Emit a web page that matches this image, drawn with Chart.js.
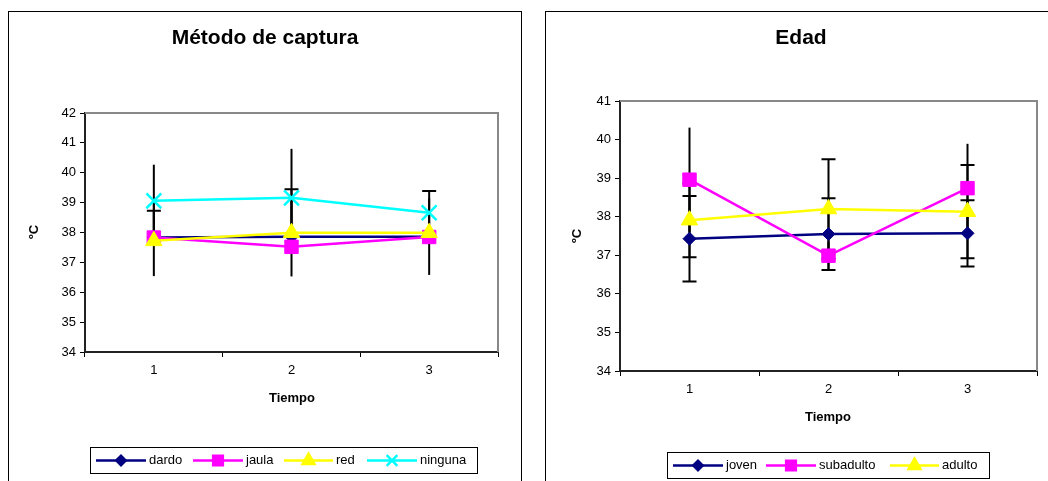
<!DOCTYPE html>
<html>
<head>
<meta charset="utf-8">
<script src="https://cdn.jsdelivr.net/npm/chart.js@4"></script>
<style>
body { margin: 0; background: #fff; width: 1048px; height: 481px; overflow: hidden; position: relative; }
canvas { position: absolute; top: 0; }
</style>
</head>
<body>
<canvas id="metodoChart" width="524" height="481" style="left:0"></canvas>
<canvas id="edadChart" width="524" height="481" style="left:524px"></canvas>
<script>
// categorias (Tiempo)
const tiempos = ['1', '2', '3'];

// Metodo de captura
const metodoNombres = ['dardo', 'jaula', 'red', 'ninguna'];
const dardo = [37.83, 37.86, 37.86];
const jaula = [37.83, 37.52, 37.85];
const red = [37.72, 37.99, 37.99];
const ninguna = [39.06, 39.16, 38.66];
const dardoErr = [1.29, 1.33, 1.28];
const jaulaErrMas = [0.90, 1.93, 1.54];
const ningunaErr = [1.21, 1.64, 0];
const metodoEje = [34, 42];

// Edad
const edadNombres = ['joven', 'subadulto', 'adulto'];
const joven = [37.43, 37.55, 37.57];
const subadulto = [38.96, 36.99, 38.74];
const adulto = [37.91, 38.20, 38.13];
const jovenErr = [1.11, 0.93, 0.86];
const subadultoErr = [1.35, 0.35, 1.15];
const adultoErr = [0.96, 1.29, 1.21];
const edadEje = [34, 41];

const FONT = 'Arial, "Liberation Sans", sans-serif';
const zeros = [0, 0, 0];

// marco, titulos, leyenda y barras de error
const marcoPlugin = {
    id: 'marco',
    beforeDatasetsDraw(chart) {
        const ctx = chart.ctx;
        const y = chart.scales.y;
        ctx.save();
        ctx.strokeStyle = '#000';
        ctx.lineWidth = 2;
        chart.data.datasets.forEach((ds, i) => {
            if (!ds.errMas) return;
            const meta = chart.getDatasetMeta(i);
            ds.data.forEach((v, j) => {
                const up = ds.errMas[j], dn = ds.errMenos[j];
                if (!up && !dn) return;
                const x = meta.data[j].x;
                const yTop = y.getPixelForValue(v + up);
                const yBot = y.getPixelForValue(v - dn);
                ctx.beginPath();
                ctx.moveTo(x, yTop);
                ctx.lineTo(x, yBot);
                if (ds.errTapas) {
                    if (up) { ctx.moveTo(x - 7, yTop); ctx.lineTo(x + 7, yTop); }
                    if (dn) { ctx.moveTo(x - 7, yBot); ctx.lineTo(x + 7, yBot); }
                }
                ctx.stroke();
            });
        });
        ctx.restore();
    },
    afterDraw(chart, args, opts) {
        const ctx = chart.ctx;
        const a = chart.chartArea;
        ctx.save();
        // borde exterior
        ctx.strokeStyle = '#000';
        ctx.lineWidth = 1;
        ctx.strokeRect(opts.caja[0] + 0.5, opts.caja[1] + 0.5, opts.caja[2], opts.caja[3]);
        // borde gris del area de trazado
        ctx.strokeStyle = '#888';
        ctx.lineWidth = 2;
        ctx.beginPath();
        ctx.moveTo(a.left, a.top);
        ctx.lineTo(a.right, a.top);
        ctx.lineTo(a.right, a.bottom);
        ctx.stroke();
        // titulos
        ctx.fillStyle = '#000';
        ctx.textAlign = 'center';
        ctx.textBaseline = 'middle';
        ctx.font = 'bold 21px ' + FONT;
        ctx.fillText(opts.titulo, opts.tituloPos[0], opts.tituloPos[1]);
        ctx.font = 'bold 13px ' + FONT;
        ctx.fillText('Tiempo', opts.tiempoPos[0], opts.tiempoPos[1]);
        ctx.save();
        ctx.translate(opts.gradosPos[0], opts.gradosPos[1]);
        ctx.rotate(-Math.PI / 2);
        ctx.fillText('ºC', 0, 0);
        ctx.restore();
        // leyenda
        const L = opts.leyenda;
        ctx.strokeStyle = '#000';
        ctx.lineWidth = 1;
        ctx.strokeRect(L.caja[0] + 0.5, L.caja[1] + 0.5, L.caja[2], L.caja[3]);
        const cy = L.caja[1] + L.caja[3] / 2 + 0.5;
        ctx.font = '13px ' + FONT;
        ctx.textAlign = 'left';
        chart.data.datasets.forEach((ds, i) => {
            const [x0, x1] = L.lineas[i];
            ctx.strokeStyle = ds.borderColor;
            ctx.lineWidth = 2.5;
            ctx.beginPath();
            ctx.moveTo(x0, cy);
            ctx.lineTo(x1, cy);
            ctx.stroke();
            ctx.fillStyle = ds.borderColor;
            Chart.helpers.drawPoint(ctx, {
                pointStyle: ds.pointStyle,
                radius: ds.pointRadius * 0.72,
                rotation: 0,
                borderWidth: ds.pointBorderWidth || 1
            }, (x0 + x1) / 2, cy);
            ctx.fillStyle = '#000';
            ctx.fillText(ds.label, x1 + 3, cy);
        });
        ctx.restore();
    }
};

function serie(label, data, color, estilo, radio, mas, menos, tapas, orden) {
    return {
        label: label,
        data: data,
        order: orden, // como en Excel: la ultima serie queda encima
        borderColor: color,
        backgroundColor: color,
        pointBackgroundColor: color,
        pointBorderColor: color,
        borderWidth: 2.5,
        pointStyle: estilo,
        pointRadius: radio,
        pointHoverRadius: radio,
        pointBorderWidth: estilo === 'crossRot' ? 2.5 : 1,
        tension: 0,
        fill: false,
        errMas: mas,
        errMenos: menos,
        errTapas: tapas
    };
}

function crearGrafico(id, datasets, eje, pad, marco) {
    return new Chart(document.getElementById(id).getContext('2d'), {
        type: 'line',
        data: { labels: tiempos, datasets: datasets },
        plugins: [marcoPlugin],
        options: {
            responsive: false,
            animation: false,
            layout: { padding: pad },
            plugins: {
                legend: { display: false },
                title: { display: false },
                tooltip: { enabled: false },
                marco: marco
            },
            scales: {
                x: {
                    offset: true,
                    afterFit: (s) => { s.height = 30; },
                    grid: { offset: true, drawOnChartArea: false, drawTicks: true, tickLength: 5, color: '#000' },
                    border: { color: '#222', width: 2 },
                    ticks: { color: '#000', font: { family: FONT, size: 13 }, padding: 6, maxRotation: 0 }
                },
                y: {
                    min: eje[0],
                    max: eje[1],
                    afterFit: (s) => { s.width = 40; },
                    grid: { drawOnChartArea: false, drawTicks: true, tickLength: 5, color: '#000' },
                    border: { color: '#222', width: 2 },
                    ticks: { stepSize: 1, color: '#000', font: { family: FONT, size: 13 }, padding: 4 }
                }
            }
        }
    });
}

const colores = ['#000080', '#FF00FF', '#FFFF00', '#00FFFF'];

const metodoChart = crearGrafico('metodoChart', [
    serie(metodoNombres[0], dardo, colores[0], 'rectRot', 6.5, dardoErr, dardoErr, false, 4),
    serie(metodoNombres[1], jaula, colores[1], 'rect', 9.5, jaulaErrMas, zeros, true, 3),
    serie(metodoNombres[2], red, colores[2], 'triangle', 9.5, null, null, false, 2),
    serie(metodoNombres[3], ninguna, colores[3], 'crossRot', 10.5, ningunaErr, ningunaErr, false, 1)
], metodoEje, { left: 45, right: 26, top: 113, bottom: 99 }, {
    caja: [8, 11, 513, 500],
    titulo: 'Método de captura',
    tituloPos: [265, 38],
    tiempoPos: [292, 398],
    gradosPos: [34, 232],
    leyenda: { caja: [90, 447, 387, 26], lineas: [[96, 146], [193, 243], [284, 333], [367, 417]] }
});

const edadChart = crearGrafico('edadChart', [
    serie(edadNombres[0], joven, colores[0], 'rectRot', 6.5, jovenErr, jovenErr, true, 3),
    serie(edadNombres[1], subadulto, colores[1], 'rect', 9.5, subadultoErr, subadultoErr, false, 2),
    serie(edadNombres[2], adulto, colores[2], 'triangle', 9.5, adultoErr, adultoErr, true, 1)
], edadEje, { left: 56, right: 11, top: 101, bottom: 80 }, {
    caja: [21, 11, 520, 500],
    titulo: 'Edad',
    tituloPos: [277, 38],
    tiempoPos: [304, 417],
    gradosPos: [53, 236],
    leyenda: { caja: [143, 452, 322, 26], lineas: [[149, 199], [242, 292], [366, 415]] }
});
</script>
</body>
</html>
